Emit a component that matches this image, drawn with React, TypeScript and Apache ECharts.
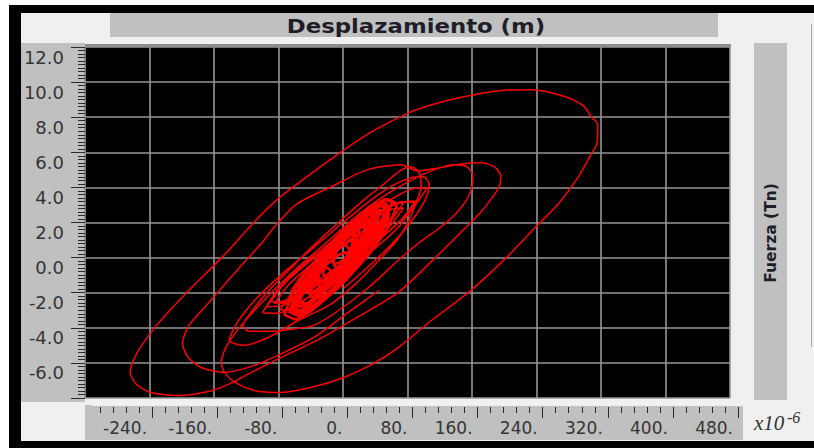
import React, { useEffect, useRef } from "react";
import * as echarts from "echarts";

// Axis settings (x in units of 1e-6 m, y in Tn)
const xMin = -320;
const xMax = 480;
const xStep = 80;
const yMin = -8;
const yMax = 12;
const yStep = 2;

const titleText = "Desplazamiento (m)";
const yTitleText = "Fuerza (Tn)";

// Main trajectory: outer loops
const trajectory: [number, number][] = [
  [45, -1.86], [7, -3.11], [-32, -4.43], [-73, -5.4], [-110, -6.14], [-147, -6.54],
  [-176, -6.26], [-193, -5.63], [-199, -4.89], [-191, -3.86], [-166, -2.54], [-129, -0.6],
  [-102, 0.77], [-82, 1.91], [-57, 3.06], [-15, 4.03], [30, 5.0], [72, 5.29], [92, 4.94],
  [119, 5.11], [146, 5.34], [171, 5.4], [188, 5.17], [196, 4.6], [193, 3.97], [183, 3.29],
  [171, 2.6], [159, 2.03], [119, 0.2], [69, -1.97], [20, -3.34], [-30, -4.66], [-79, -5.74],
  [-116, -6.6], [-137, -7.11], [-162, -7.57], [-203, -7.86], [-238, -7.69], [-256, -7.23],
  [-264, -6.54], [-255, -5.4], [-228, -3.69], [-191, -1.86], [-151, -0.03], [-110, 2.03],
  [-82, 3.29], [-40, 4.77], [-2, 6.03], [38, 7.23], [82, 8.26], [110, 8.71], [144, 9.11],
  [193, 9.51], [234, 9.57], [276, 9.17], [298, 8.66], [308, 8.03], [316, 7.57], [315, 6.49],
  [308, 5.91], [292, 4.6], [267, 3.06], [239, 1.74], [202, -0.03], [156, -1.97], [110, -3.57],
  [69, -5.11], [38, -6.03], [1, -6.83], [-40, -7.4], [-79, -7.69], [-110, -7.57], [-134, -7.11],
  [-147, -6.54], [-151, -5.97], [-144, -5.0], [-123, -3.69], [-92, -2.14], [-57, -0.6],
  [-17, 1.0], [20, 2.49], [57, 3.69], [88, 4.49], [113, 5.0], [137, 5.29], [154, 5.17],
  [161, 4.66], [159, 3.86], [150, 3.06], [137, 2.37], [123, 1.8], [94, 0.83], [69, -0.14],
  [32, -1.69], [-5, -3.0], [-36, -3.86], [-55, -4.03], [-89, -4.2], [-117, -4.2], [-124, -3.86],
  [-114, -3.11], [-94, -1.97], [-67, -0.71], [-36, 0.71], [-5, 2.03], [26, 3.29], [51, 4.2],
  [69, 4.89], [84, 5.17], [94, 4.89], [97, 4.03], [90, 3.06], [82, 2.14], [67, 1.0], [45, -0.14],
  [14, -1.57], [-17, -2.71], [-55, -3.57], [-92, -4.54], [-123, -5.0], [-141, -4.71],
  [-131, -3.69], [-107, -2.31], [-73, -0.83], [-36, 0.6], [1, 2.03], [35, 3.29], [63, 4.14],
  [84, 4.54], [100, 4.6], [107, 4.14], [102, 3.29], [88, 2.26], [63, 0.89], [32, -0.49], [1, -1.74],
];

// Core cycles (small amplitude), outlines
const cycleK1: [number, number][] = [[-90, -2.53], [-72, -1.44], [-45, -0.35], [0, 1.2], [45, 2.53], [72, 3.16], [90, 3.23], [72, 2.14], [45, 1.05], [0, -0.5], [-45, -1.83], [-72, -2.46], [-90, -2.53]];
const cycleK2: [number, number][] = [[-85, -2.62], [-69, -1.63], [-45, -0.61], [-5, 0.85], [35, 2.11], [59, 2.73], [75, 2.82], [59, 1.83], [35, 0.81], [-5, -0.65], [-45, -1.91], [-69, -2.53], [-85, -2.62]];
const cycleK3: [number, number][] = [[-65, -1.92], [-51, -1.0], [-30, -0.05], [5, 1.3], [40, 2.47], [61, 3.04], [75, 3.12], [61, 2.2], [40, 1.25], [5, -0.1], [-30, -1.27], [-51, -1.84], [-65, -1.92]];
const cycleK4: [number, number][] = [[-78, -2.98], [-64, -2.05], [-44, -1.08], [-10, 0.3], [24, 1.5], [44, 2.09], [58, 2.18], [44, 1.25], [24, 0.28], [-10, -1.1], [-44, -2.3], [-64, -2.89], [-78, -2.98]];
const cycleK5: [number, number][] = [[-95, -2.8], [-75, -1.52], [-45, -0.23], [5, 1.6], [55, 3.17], [85, 3.92], [105, 4.0], [85, 2.72], [55, 1.43], [5, -0.4], [-45, -1.97], [-75, -2.72], [-95, -2.8]];
const cycleK6: [number, number][] = [[-100, -3.14], [-81, -1.85], [-52, -0.62], [-5, 1.1], [42, 2.52], [71, 3.17], [90, 3.14], [71, 1.85], [42, 0.62], [-5, -1.1], [-52, -2.52], [-81, -3.17], [-100, -3.14]];

// Core cycles, dense centre
const cycleH1: [number, number][] = [[-73, -3.25], [-59, -1.72], [-38, -0.38], [-3, 1.4], [32, 2.78], [53, 3.32], [67, 3.05], [53, 1.52], [32, 0.18], [-3, -1.6], [-38, -2.98], [-59, -3.52], [-73, -3.25]];
const cycleH2: [number, number][] = [[-67, -3.09], [-55, -1.75], [-36, -0.57], [-5, 1.0], [26, 2.22], [45, 2.71], [57, 2.49], [45, 1.15], [26, -0.03], [-5, -1.6], [-36, -2.82], [-55, -3.31], [-67, -3.09]];
const cycleH3: [number, number][] = [[-58, -2.41], [-46, -1.17], [-29, -0.07], [0, 1.4], [29, 2.54], [46, 3.01], [58, 2.81], [46, 1.57], [29, 0.47], [0, -1.0], [-29, -2.14], [-46, -2.61], [-58, -2.41]];
const cycleH4: [number, number][] = [[-62, -2.94], [-52, -1.81], [-36, -0.82], [-10, 0.5], [16, 1.52], [32, 1.93], [42, 1.74], [32, 0.61], [16, -0.38], [-10, -1.7], [-36, -2.72], [-52, -3.13], [-62, -2.94]];
const cycleH5: [number, number][] = [[-45, -1.75], [-35, -0.64], [-20, 0.33], [5, 1.6], [30, 2.58], [45, 2.96], [55, 2.75], [45, 1.64], [30, 0.67], [5, -0.6], [-20, -1.58], [-35, -1.96], [-45, -1.75]];
const cycleH6: [number, number][] = [[-60, -2.93], [-51, -1.92], [-38, -1.04], [-15, 0.1], [8, 0.98], [21, 1.32], [30, 1.13], [21, 0.12], [8, -0.76], [-15, -1.9], [-38, -2.78], [-51, -3.12], [-60, -2.93]];
const cycleH7: [number, number][] = [[-35, -1.23], [-26, -0.28], [-13, 0.57], [10, 1.7], [33, 2.59], [46, 2.96], [55, 2.83], [46, 1.88], [33, 1.03], [10, -0.1], [-13, -0.99], [-26, -1.36], [-35, -1.23]];
const cycleH8: [number, number][] = [[-43, -2.0], [-35, -0.92], [-23, -0.06], [-3, 1.0], [17, 1.74], [29, 1.96], [37, 1.6], [29, 0.52], [17, -0.34], [-3, -1.4], [-23, -2.14], [-35, -2.36], [-43, -2.0]];
const cycleH9: [number, number][] = [[-60, -3.08], [-53, -2.22], [-43, -1.51], [-25, -0.6], [-8, 0.07], [3, 0.3], [10, 0.08], [3, -0.78], [-8, -1.49], [-25, -2.4], [-43, -3.07], [-53, -3.3], [-60, -3.08]];
const cycleH10: [number, number][] = [[-15, -0.18], [-8, 0.62], [3, 1.3], [20, 2.2], [38, 2.88], [48, 3.14], [55, 2.98], [48, 2.18], [38, 1.5], [20, 0.6], [3, -0.08], [-8, -0.34], [-15, -0.18]];
const cycleH11: [number, number][] = [[-33, -1.36], [-27, -0.51], [-19, 0.14], [-5, 0.9], [9, 1.4], [17, 1.51], [23, 1.16], [17, 0.31], [9, -0.34], [-5, -1.1], [-19, -1.6], [-27, -1.71], [-33, -1.36]];
const cycleH12: [number, number][] = [[-65, -3.03], [-60, -2.38], [-53, -1.85], [-40, -1.2], [-28, -0.73], [-20, -0.58], [-15, -0.78], [-20, -1.42], [-28, -1.95], [-40, -2.6], [-53, -3.07], [-60, -3.22], [-65, -3.03]];
const cycleH13: [number, number][] = [[10, 0.88], [15, 1.52], [23, 2.05], [35, 2.7], [48, 3.17], [55, 3.32], [60, 3.13], [55, 2.48], [48, 1.95], [35, 1.3], [23, 0.83], [15, 0.68], [10, 0.88]];
const cycleH14: [number, number][] = [[-32, -1.4], [-28, -0.74], [-22, -0.26], [-12, 0.3], [-2, 0.64], [4, 0.7], [8, 0.4], [4, -0.26], [-2, -0.74], [-12, -1.3], [-22, -1.64], [-28, -1.7], [-32, -1.4]];
const cycleH15: [number, number][] = [[-12, -0.3], [-8, 0.36], [-2, 0.84], [8, 1.4], [18, 1.74], [24, 1.8], [28, 1.5], [24, 0.84], [18, 0.36], [8, -0.2], [-2, -0.54], [-8, -0.6], [-12, -0.3]];
const cycleF1: [number, number][] = [[-64, -2.89], [-53, -1.68], [-37, -0.56], [-9, 0.96], [19, 2.19], [35, 2.72], [46, 2.61], [35, 1.4], [19, 0.28], [-9, -1.24], [-37, -2.46], [-53, -3.0], [-64, -2.89]];
const cycleF2: [number, number][] = [[-55, -2.6], [-45, -1.54], [-30, -0.52], [-5, 0.9], [20, 2.08], [35, 2.62], [45, 2.6], [35, 1.54], [20, 0.52], [-5, -0.9], [-30, -2.08], [-45, -2.62], [-55, -2.6]];
const cycleF3: [number, number][] = [[-57, -2.78], [-48, -1.8], [-35, -0.85], [-12, 0.5], [11, 1.63], [24, 2.16], [33, 2.18], [24, 1.2], [11, 0.25], [-12, -1.1], [-35, -2.23], [-48, -2.76], [-57, -2.78]];
const cycleF4: [number, number][] = [[-43, -1.9], [-35, -1.04], [-23, -0.19], [-3, 1.0], [17, 2.01], [29, 2.48], [37, 2.5], [29, 1.64], [17, 0.79], [-3, -0.4], [-23, -1.41], [-35, -1.88], [-43, -1.9]];
const cycleG1: [number, number][] = [[-63, -3.0], [-53, -1.9], [-39, -0.88], [-15, 0.5], [9, 1.62], [23, 2.1], [33, 2.0], [23, 0.9], [9, -0.12], [-15, -1.5], [-39, -2.62], [-53, -3.1], [-63, -3.0]];
const cycleG2: [number, number][] = [[-42, -1.91], [-34, -0.91], [-21, 0.02], [0, 1.3], [21, 2.34], [34, 2.79], [42, 2.71], [34, 1.71], [21, 0.78], [0, -0.5], [-21, -1.54], [-34, -1.99], [-42, -1.91]];
const cycleG5: [number, number][] = [[-40, -1.94], [-34, -1.05], [-25, -0.29], [-10, 0.7], [5, 1.45], [14, 1.73], [20, 1.54], [14, 0.65], [5, -0.11], [-10, -1.1], [-25, -1.85], [-34, -2.13], [-40, -1.94]];
const cycleG8: [number, number][] = [[-25, -0.9], [-21, -0.26], [-15, 0.26], [-5, 0.9], [5, 1.36], [11, 1.5], [15, 1.3], [11, 0.66], [5, 0.14], [-5, -0.5], [-15, -0.96], [-21, -1.1], [-25, -0.9]];

const outlineCycles = [cycleK1, cycleK2, cycleK3, cycleK4, cycleK5, cycleK6];
const denseCycles = [
  cycleH1, cycleH2, cycleH3, cycleH4, cycleH5, cycleH6, cycleH7, cycleH8,
  cycleH9, cycleH10, cycleH11, cycleH12, cycleH13, cycleH14, cycleH15,
  cycleF1, cycleF2, cycleF3, cycleF4, cycleG1, cycleG2, cycleG5, cycleG8,
];

const RED = "#ff0000";
const PANEL = "#c0c0c0";
const BG = "#f0f0f0";
const LABEL = "#353535";

function loopSeries(data: [number, number][], name: string, width: number, smooth: number) {
  return {
    type: "line",
    name,
    xAxisIndex: 0,
    yAxisIndex: 0,
    data,
    showSymbol: false,
    symbol: "none",
    smooth,
    lineStyle: { color: RED, width },
    z: 3,
  };
}

export default function App() {
  const ref = useRef<HTMLDivElement>(null);

  useEffect(() => {
    if (!ref.current) return;
    const chart = echarts.init(ref.current, null, { renderer: "svg" });

    const series: any[] = [
      loopSeries(trajectory, "ciclo", 1.5, 0.25),
      ...outlineCycles.map((c, i) => loopSeries(c, "contorno" + i, 1.5, 0.2)),
      ...denseCycles.map((c, i) => loopSeries(c, "nucleo" + i, 2.6, 0.15)),
    ];

    chart.setOption({
      animation: false,
      backgroundColor: "#ffffff",
      graphic: [
        { type: "rect", z: -30, shape: { x: 9, y: 5, width: 805, height: 443 }, style: { fill: "#000" } },
        { type: "rect", z: -29, shape: { x: 21, y: 13, width: 793, height: 428 }, style: { fill: BG } },
        { type: "rect", z: -28, shape: { x: 110, y: 13, width: 608, height: 24 }, style: { fill: PANEL } },
        { type: "rect", z: -28, shape: { x: 21, y: 43, width: 64, height: 359 }, style: { fill: PANEL } },
        { type: "rect", z: -28, shape: { x: 85, y: 406, width: 658, height: 34 }, style: { fill: PANEL } },
        { type: "rect", z: -28, shape: { x: 754, y: 43, width: 33, height: 357 }, style: { fill: PANEL } },
        { type: "rect", z: -28, shape: { x: 85, y: 44, width: 646, height: 3 }, style: { fill: "#8a8a8a" } },
        { type: "rect", z: -28, shape: { x: 811, y: 24, width: 1, height: 323 }, style: { fill: "#a8a8a8" } },
        { type: "rect", z: 100, shape: { x: 85, y: 405, width: 7, height: 16 }, style: { fill: PANEL } },
        {
          type: "text",
          z: 50,
          x: 416,
          y: 26,
          scaleX: 1.14,
          style: {
            text: titleText,
            fontFamily: "DejaVu Sans",
            fontWeight: "bold",
            fontSize: 20,
            fill: "#1e1e2a",
            align: "center",
            verticalAlign: "middle",
            textAlign: "center",
            textVerticalAlign: "middle",
          },
        },
        {
          type: "text",
          z: 50,
          x: 771,
          y: 233,
          rotation: Math.PI / 2,
          style: {
            text: yTitleText,
            fontFamily: "DejaVu Sans",
            fontWeight: "bold",
            fontSize: 15.5,
            fill: "#1e1e2a",
            align: "center",
            verticalAlign: "middle",
            textAlign: "center",
            textVerticalAlign: "middle",
          },
        },
        {
          type: "text",
          z: 50,
          x: 754,
          y: 433,
          style: {
            text: "x10",
            fontFamily: "Liberation Serif",
            fontStyle: "italic",
            fontSize: 21,
            fill: "#333",
            align: "left",
            verticalAlign: "bottom",
            textAlign: "left",
            textVerticalAlign: "bottom",
          },
        },
        {
          type: "text",
          z: 50,
          x: 787,
          y: 425,
          style: {
            text: "-6",
            fontFamily: "Liberation Serif",
            fontStyle: "italic",
            fontSize: 16,
            fill: "#333",
            align: "left",
            verticalAlign: "bottom",
            textAlign: "left",
            textVerticalAlign: "bottom",
          },
        },
      ],
      grid: [
        { left: 85, top: 47, width: 645, height: 351, show: true, backgroundColor: "#000", borderWidth: 0 },
        { left: 87, top: 400, width: 651, height: 7, show: false },
      ],
      xAxis: [
        {
          type: "value",
          gridIndex: 0,
          min: xMin,
          max: xMax,
          interval: xStep,
          axisLine: { show: false, onZero: false },
          axisTick: { show: false },
          axisLabel: { show: false },
          splitLine: { show: true, lineStyle: { color: "#959595", width: 1.6 } },
        },
        {
          type: "value",
          gridIndex: 1,
          min: xMin,
          max: xMax,
          interval: xStep,
          position: "bottom",
          axisLine: { show: false, onZero: false },
          axisTick: { show: true, length: 11, lineStyle: { color: "#2a2a2a", width: 1 } },
          minorTick: { show: true, splitNumber: 5, length: 6, lineStyle: { color: "#2a2a2a", width: 1 } },
          splitLine: { show: false },
          axisLabel: {
            show: true,
            formatter: (v: number) => (v === xMin ? "" : `${v}.`),
            fontFamily: "DejaVu Sans",
            fontSize: 17,
            color: LABEL,
            align: "right",
            padding: [0, 5, 0, 0],
            margin: 12,
            showMinLabel: true,
            showMaxLabel: true,
            hideOverlap: false,
          },
        },
      ],
      yAxis: [
        {
          type: "value",
          gridIndex: 0,
          min: yMin,
          max: yMax,
          interval: yStep,
          axisLine: { show: false, onZero: false },
          axisTick: { show: true, length: 14, lineStyle: { color: "#2a2a2a", width: 1 } },
          minorTick: { show: true, splitNumber: 10, length: 7, lineStyle: { color: "#2a2a2a", width: 1 } },
          splitLine: { show: true, lineStyle: { color: "#959595", width: 1.6 } },
          axisLabel: {
            show: true,
            formatter: (v: number) => (v === yMin ? "" : v.toFixed(1)),
            fontFamily: "DejaVu Sans",
            fontSize: 18,
            color: LABEL,
            align: "right",
            verticalAlign: "top",
            padding: [1, 0, 0, 0],
            margin: 21,
            showMinLabel: true,
            showMaxLabel: true,
          },
        },
        { type: "value", gridIndex: 1, min: 0, max: 1, show: false },
      ],
      series,
    });

    return () => chart.dispose();
  }, []);

  return (
    <div
      ref={ref}
      style={{ position: "fixed", left: 0, top: 0, width: 814, height: 448 }}
    />
  );
}
